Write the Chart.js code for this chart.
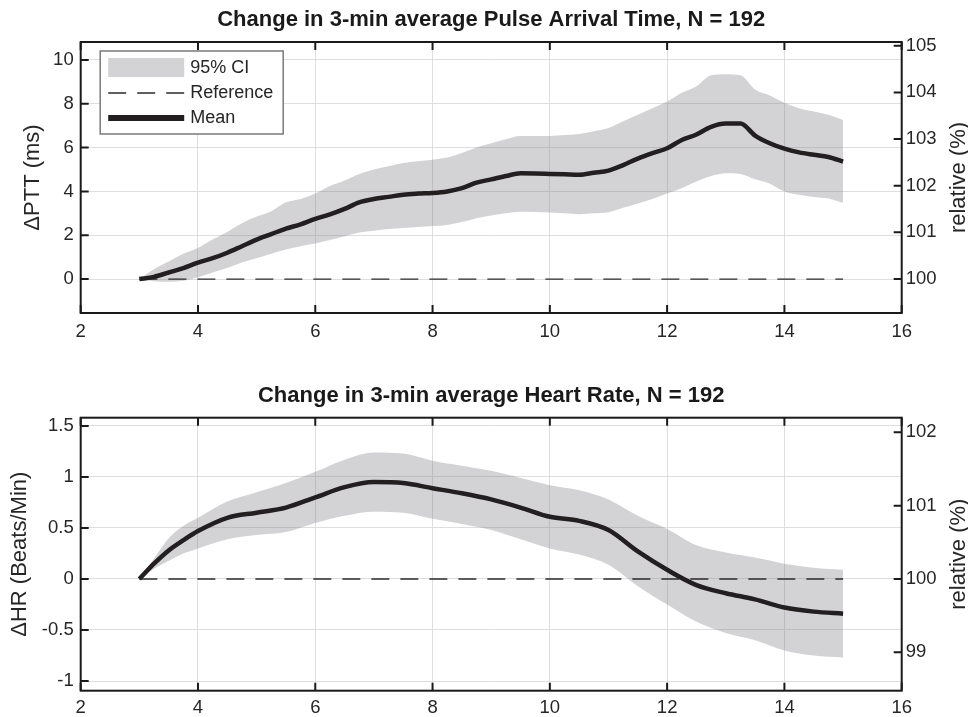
<!DOCTYPE html>
<html>
<head>
<meta charset="utf-8">
<script src="https://cdn.jsdelivr.net/npm/chart.js@4.4.1/dist/chart.umd.min.js"></script>
<style>
  html, body { margin: 0; padding: 0; background: #fff; }
  body { width: 968px; height: 717px; position: relative; overflow: hidden; }
  canvas { position: absolute; left: 0; }
  #pttChart { top: 0; }
  #hrChart { top: 358px; }
</style>
</head>
<body>
<canvas id="pttChart" width="968" height="358"></canvas>
<canvas id="hrChart" width="968" height="359"></canvas>
<script>
// minutes
const pttTime = [3.0, 3.25, 3.5, 3.75, 4.0, 4.25, 4.5, 4.75, 5.0, 5.25, 5.5, 5.75, 6.0, 6.25, 6.5, 6.75,
                 7.0, 7.25, 7.5, 7.75, 8.0, 8.25, 8.5, 8.75, 9.0, 9.25, 9.5, 9.75, 10.0, 10.25, 10.5, 10.75,
                 11.0, 11.25, 11.5, 11.75, 12.0, 12.25, 12.5, 12.75, 13.0, 13.25, 13.5, 13.75, 14.0, 14.25, 14.5, 14.75, 15.0];
// delta PTT (ms)
const pttMean  = [0, 0.1, 0.3, 0.5, 0.75, 0.95, 1.2, 1.5, 1.8, 2.05, 2.3, 2.5, 2.75, 2.95, 3.2, 3.5,
                  3.65, 3.75, 3.85, 3.9, 3.93, 4.0, 4.15, 4.4, 4.55, 4.7, 4.83, 4.82, 4.8, 4.78, 4.76, 4.85,
                  4.95, 5.2, 5.5, 5.75, 5.97, 6.35, 6.6, 6.95, 7.1, 7.1, 6.55, 6.2, 5.95, 5.78, 5.67, 5.57, 5.36];
const pttUpper = [0, 0.45, 0.8, 1.15, 1.42, 1.8, 2.15, 2.55, 2.85, 3.1, 3.5, 3.65, 3.9, 4.25, 4.5, 4.8,
                  5.0, 5.15, 5.3, 5.38, 5.45, 5.55, 5.75, 6.0, 6.2, 6.38, 6.53, 6.53, 6.53, 6.57, 6.62, 6.75,
                  6.9, 7.2, 7.5, 7.8, 8.1, 8.5, 8.8, 9.3, 9.35, 9.3, 8.65, 8.38, 8.05, 7.8, 7.65, 7.5, 7.26];
const pttLower = [0, -0.1, -0.12, -0.08, 0.08, 0.3, 0.5, 0.75, 0.95, 1.15, 1.35, 1.5, 1.62, 1.78, 1.95, 2.12,
                  2.2, 2.28, 2.33, 2.38, 2.42, 2.47, 2.6, 2.78, 2.9, 3.0, 3.07, 3.06, 3.04, 3.0, 2.96, 3.0,
                  3.05, 3.25, 3.45, 3.65, 3.9, 4.15, 4.45, 4.7, 4.83, 4.8, 4.55, 4.35, 4.0, 3.85, 3.75, 3.68, 3.48];

const hrTime  = [3.0, 3.25, 3.5, 3.75, 4.0, 4.5, 5.0, 5.5, 6.0, 6.5, 7.0, 7.5, 8.0, 8.5, 9.0, 9.5,
                 10.0, 10.5, 11.0, 11.5, 12.0, 12.5, 13.0, 13.5, 14.0, 14.5, 15.0];
// delta HR (beats/min)
const hrMean  = [0, 0.15, 0.28, 0.38, 0.47, 0.6, 0.65, 0.7, 0.8, 0.9, 0.95, 0.94, 0.89, 0.84, 0.78, 0.7,
                 0.61, 0.57, 0.48, 0.27, 0.09, -0.06, -0.14, -0.2, -0.28, -0.32, -0.34];
const hrUpper = [0, 0.2, 0.4, 0.52, 0.6, 0.76, 0.85, 0.94, 1.05, 1.17, 1.24, 1.23, 1.16, 1.11, 1.06, 0.99,
                 0.92, 0.87, 0.78, 0.62, 0.49, 0.33, 0.26, 0.21, 0.15, 0.11, 0.09];
const hrLower = [0, 0.1, 0.18, 0.25, 0.3, 0.39, 0.43, 0.46, 0.55, 0.62, 0.66, 0.65, 0.59, 0.54, 0.48, 0.39,
                 0.3, 0.24, 0.14, -0.07, -0.25, -0.42, -0.53, -0.6, -0.7, -0.75, -0.77];

const timeTicks   = [2, 4, 6, 8, 10, 12, 14, 16];
const pttTicks    = [0, 2, 4, 6, 8, 10];
const pttRelTicks = [100, 101, 102, 103, 104, 105];
const hrTicks     = [-1, -0.5, 0, 0.5, 1, 1.5];
const hrRelTicks  = [99, 100, 101, 102];

const legendLabels = ['95% CI', 'Reference', 'Mean'];

Chart.defaults.font.family = '"Liberation Sans", Arial, sans-serif';
Chart.defaults.color = '#262626';

const bandColor = 'rgba(128,130,134,0.35)';
const inkColor = '#231f20';

function toPoints(xs, ys) {
    return xs.map((x, i) => ({ x: x, y: ys[i] }));
}

// plain number labels (1 rather than 1.0)
const plainLabel = v => String(v);

// black box with inward tick marks, like the original figure
const boxPlugin = {
    id: 'boxTicks',
    afterDatasetsDraw(chart) {
        const { ctx, chartArea: a, scales } = chart;
        ctx.save();
        ctx.strokeStyle = '#1a1a1a';
        ctx.lineWidth = 2;
        ctx.beginPath();
        for (const t of scales.x.ticks) {
            const px = scales.x.getPixelForValue(t.value);
            ctx.moveTo(px, a.bottom); ctx.lineTo(px, a.bottom - 8);
            ctx.moveTo(px, a.top); ctx.lineTo(px, a.top + 8);
        }
        for (const t of scales.y.ticks) {
            const py = scales.y.getPixelForValue(t.value);
            ctx.moveTo(a.left, py); ctx.lineTo(a.left + 8, py);
        }
        for (const t of scales.y2.ticks) {
            const py = scales.y2.getPixelForValue(t.value);
            ctx.moveTo(a.right, py); ctx.lineTo(a.right - 8, py);
        }
        ctx.stroke();
        ctx.strokeRect(a.left, a.top, a.right - a.left, a.bottom - a.top);

        // right axis title reads bottom to top
        const t2 = scales.y2.options.title;
        ctx.fillStyle = '#262626';
        ctx.font = '22px "Liberation Sans", Arial, sans-serif';
        ctx.textAlign = 'center';
        ctx.textBaseline = 'middle';
        ctx.translate(959, (a.top + a.bottom) / 2);
        ctx.rotate(-Math.PI / 2);
        ctx.fillText(t2.text, 0, 0);
        ctx.restore();
    }
};

const legendPlugin = {
    id: 'boxLegend',
    afterDraw(chart) {
        if (!chart.options.plugins.boxLegend) return;
        const { ctx, chartArea: a } = chart;
        const x0 = a.left + 19.5, y0 = a.top + 9, w = 183, h = 83;
        ctx.save();
        ctx.fillStyle = '#fff';
        ctx.fillRect(x0, y0, w, h);
        ctx.strokeStyle = '#7a7a7a';
        ctx.lineWidth = 1.5;
        ctx.strokeRect(x0, y0, w, h);
        ctx.font = '18px "Liberation Sans", Arial, sans-serif';
        ctx.textBaseline = 'middle';
        ctx.textAlign = 'left';
        legendLabels.forEach((lab, i) => {
            const ds = chart.data.datasets.find(d => d.label === lab);
            const cy = y0 + 17 + i * 25;
            if (ds.fill) {
                ctx.fillStyle = ds.backgroundColor;
                ctx.fillRect(x0 + 8, cy - 10, 76, 19);
            } else {
                ctx.strokeStyle = ds.borderColor;
                ctx.lineWidth = ds.borderWidth > 2 ? ds.borderWidth + 1.5 : ds.borderWidth;
                ctx.setLineDash(ds.borderDash || []);
                ctx.beginPath();
                ctx.moveTo(x0 + 8, cy);
                ctx.lineTo(x0 + 84, cy);
                ctx.stroke();
                ctx.setLineDash([]);
            }
            ctx.fillStyle = '#262626';
            ctx.fillText(lab, x0 + 90, cy);
        });
        ctx.restore();
    }
};

function makeChart(id, cfg) {
    const datasets = [
        {
            label: 'Mean',
            data: toPoints(cfg.time, cfg.mean),
            borderColor: inkColor,
            borderWidth: 4.5,
            pointRadius: 0,
            fill: false,
            cubicInterpolationMode: 'monotone',
            order: 0
        },
        {
            label: 'Reference',
            data: [{ x: cfg.time[0], y: 0 }, { x: cfg.time[cfg.time.length - 1], y: 0 }],
            borderColor: '#2b2b2b',
            borderWidth: 1.3,
            borderDash: [18, 11],
            pointRadius: 0,
            fill: false,
            order: 1
        },
        {
            label: '95% CI',
            data: toPoints(cfg.time, cfg.upper),
            borderColor: 'rgba(0,0,0,0)',
            borderWidth: 0,
            backgroundColor: bandColor,
            pointRadius: 0,
            fill: '+1',
            cubicInterpolationMode: 'monotone',
            order: 2
        },
        {
            label: '',
            data: toPoints(cfg.time, cfg.lower),
            borderColor: 'rgba(0,0,0,0)',
            borderWidth: 0,
            pointRadius: 0,
            fill: false,
            cubicInterpolationMode: 'monotone',
            order: 3
        }
    ];

    return new Chart(document.getElementById(id), {
        type: 'line',
        data: { datasets: datasets },
        options: {
            responsive: false,
            animation: false,
            devicePixelRatio: 1,
            layout: { padding: 0 },
            plugins: {
                legend: { display: false },
                tooltip: { enabled: false },
                boxLegend: cfg.legend,
                title: {
                    display: true,
                    text: cfg.title,
                    fullSize: false,
                    color: '#1a1a1a',
                    font: { size: 22, weight: 'bold', lineHeight: 1 },
                    padding: cfg.titlePad
                }
            },
            scales: {
                x: {
                    type: 'linear',
                    min: 2,
                    max: 16,
                    afterBuildTicks: s => { s.ticks = timeTicks.map(v => ({ value: v })); },
                    afterFit: s => { s.height = cfg.xHeight; },
                    grid: { color: '#dedede', lineWidth: 1, drawTicks: false },
                    border: { display: false },
                    ticks: { font: { size: 18.5 }, padding: cfg.xPad, color: '#262626', callback: plainLabel }
                },
                y: {
                    type: 'linear',
                    position: 'left',
                    min: cfg.yMin,
                    max: cfg.yMax,
                    afterBuildTicks: s => { s.ticks = cfg.yTicks.map(v => ({ value: v })); },
                    afterFit: s => { s.width = 80.7; },
                    grid: { color: '#dedede', lineWidth: 1, drawTicks: false },
                    border: { display: false },
                    ticks: { font: { size: 18.5 }, padding: 7, color: '#262626', callback: plainLabel },
                    title: {
                        display: true,
                        text: cfg.yTitle,
                        color: '#262626',
                        font: { size: 22, lineHeight: 1 },
                        padding: { top: cfg.yTitlePad, bottom: 0 }
                    }
                },
                y2: {
                    type: 'linear',
                    position: 'right',
                    min: cfg.y2Min,
                    max: cfg.y2Max,
                    afterBuildTicks: s => { s.ticks = cfg.y2Ticks.map(v => ({ value: v })); },
                    afterFit: s => { s.width = 66.3; },
                    grid: { drawOnChartArea: false, drawTicks: false },
                    border: { display: false },
                    ticks: { font: { size: 18.5 }, padding: 4, color: '#262626', callback: plainLabel },
                    title: { display: false, text: 'relative (%)' }
                }
            }
        },
        plugins: [boxPlugin, legendPlugin]
    });
}

makeChart('pttChart', {
    title: 'Change in 3-min average Pulse Arrival Time, N = 192',
    titlePad: { top: 8.5, bottom: 11.5 },
    time: pttTime, mean: pttMean, upper: pttUpper, lower: pttLower,
    yMin: -1.55, yMax: 10.82, yTicks: pttTicks,
    y2Min: 99.27, y2Max: 105.08, y2Ticks: pttRelTicks,
    yTitle: '\u0394PTT (ms)', yTitlePad: 22,
    xHeight: 45, xPad: 8,
    legend: true
});

makeChart('hrChart', {
    title: 'Change in 3-min average Heart Rate, N = 192',
    titlePad: { top: 27, bottom: 10.7 },
    time: hrTime, mean: hrMean, upper: hrUpper, lower: hrLower,
    yMin: -1.095, yMax: 1.581, yTicks: hrTicks,
    y2Min: 98.477, y2Max: 102.2, y2Ticks: hrRelTicks,
    yTitle: '\u0394HR (Beats/Min)', yTitlePad: 9,
    xHeight: 26.3, xPad: 5.7,
    legend: false
});
</script>
</body>
</html>
